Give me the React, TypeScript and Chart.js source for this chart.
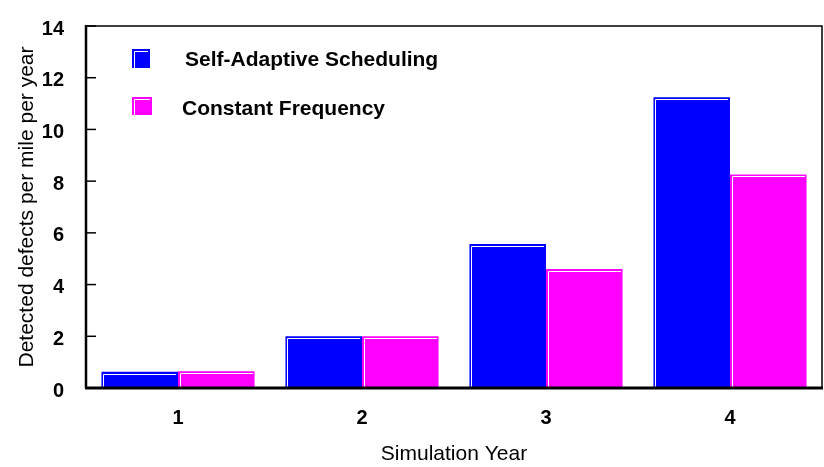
import React, { useEffect, useRef } from 'react';
import { Chart, registerables } from 'chart.js';

Chart.register(...registerables);

const categories = ['1', '2', '3', '4'];
const selfAdaptive = [0.63, 2.0, 5.57, 11.24];
const constantFrequency = [0.65, 2.0, 4.6, 8.26];
const seriesLabels = ['Self-Adaptive Scheduling', 'Constant Frequency'];
const seriesColors = ['#0000ff', '#ff00ff'];
const yTickValues = [0, 2, 4, 6, 8, 10, 12, 14];
const xTitle = 'Simulation Year';
const yTitle = 'Detected defects per mile per year';

const FONT = '"Liberation Sans", Arial, Helvetica, sans-serif';

const bevelPlugin = {
  id: 'bevel',
  afterDatasetsDraw(chart: any) {
    const ctx = chart.ctx;
    ctx.save();
    ctx.strokeStyle = '#ffffff';
    ctx.lineWidth = 1;
    chart.data.datasets.forEach((_ds: any, i: number) => {
      const meta = chart.getDatasetMeta(i);
      meta.data.forEach((bar: any) => {
        const { x, y, base, width } = bar.getProps(['x', 'y', 'base', 'width'], true);
        const l = Math.round(x - width / 2);
        const r = Math.round(x + width / 2);
        const t = Math.round(y);
        ctx.beginPath();
        ctx.moveTo(l + 2.5, base);
        ctx.lineTo(l + 2.5, t + 2.5);
        ctx.lineTo(r - 2, t + 2.5);
        ctx.stroke();
      });
    });
    // frame and axes
    const { left, right, top, bottom } = chart.chartArea;
    ctx.strokeStyle = '#000000';
    ctx.lineWidth = 1.5;
    ctx.beginPath();
    ctx.moveTo(left, top);
    ctx.lineTo(right, top);
    ctx.lineTo(right, bottom);
    ctx.stroke();
    ctx.lineWidth = 2.5;
    ctx.beginPath();
    ctx.moveTo(left, top - 1);
    ctx.lineTo(left, bottom);
    ctx.stroke();
    ctx.lineWidth = 3;
    ctx.beginPath();
    ctx.moveTo(left - 1, bottom);
    ctx.lineTo(right + 1, bottom);
    ctx.stroke();
    // inward y tick marks
    const ys = chart.scales.y;
    ctx.lineWidth = 1.5;
    yTickValues.forEach((v) => {
      const py = ys.getPixelForValue(v);
      ctx.beginPath();
      ctx.moveTo(left, py);
      ctx.lineTo(left + 10, py);
      ctx.stroke();
    });
    ctx.restore();
  },
};

const legendPlugin = {
  id: 'customLegend',
  afterDraw(chart: any) {
    const ctx = chart.ctx;
    const { left, top } = chart.chartArea;
    ctx.save();
    const items = [
      { sx: left + 46, sy: top + 23, sw: 18, sh: 19, tx: left + 99, ty: top + 40 },
      { sx: left + 46, sy: top + 71, sw: 20, sh: 18, tx: left + 96, ty: top + 89 },
    ];
    chart.data.datasets.forEach((ds: any, i: number) => {
      const it = items[i];
      ctx.fillStyle = ds.backgroundColor;
      ctx.fillRect(it.sx, it.sy, it.sw, it.sh);
      ctx.strokeStyle = '#ffffff';
      ctx.lineWidth = 1;
      ctx.beginPath();
      ctx.moveTo(it.sx + 2.5, it.sy + it.sh);
      ctx.lineTo(it.sx + 2.5, it.sy + 2.5);
      ctx.lineTo(it.sx + it.sw - 2, it.sy + 2.5);
      ctx.stroke();
      ctx.fillStyle = '#000000';
      ctx.font = `bold 21px ${FONT}`;
      ctx.textBaseline = 'alphabetic';
      ctx.textAlign = 'left';
      ctx.fillText(ds.label, it.tx, it.ty);
    });
    ctx.restore();
  },
};

export default function App() {
  const canvasRef = useRef<HTMLCanvasElement | null>(null);

  useEffect(() => {
    if (!canvasRef.current) return;
    const chart = new Chart(canvasRef.current, {
      type: 'bar',
      data: {
        labels: categories,
        datasets: [
          {
            label: seriesLabels[0],
            data: selfAdaptive,
            backgroundColor: seriesColors[0],
            borderWidth: 0,
            categoryPercentage: 0.832,
            barPercentage: 1,
          },
          {
            label: seriesLabels[1],
            data: constantFrequency,
            backgroundColor: seriesColors[1],
            borderWidth: 0,
            categoryPercentage: 0.832,
            barPercentage: 1,
          },
        ],
      },
      options: {
        responsive: false,
        animation: false,
        layout: { padding: { left: 0, top: 13, right: 2, bottom: 0 } },
        plugins: {
          legend: { display: false },
          tooltip: { enabled: false },
          title: { display: false },
        },
        scales: {
          x: {
            grid: { display: false },
            border: { display: false },
            ticks: {
              color: '#000000',
              font: { family: FONT, size: 20, weight: 'bold' },
              padding: 10,
            },
            title: {
              display: true,
              text: xTitle,
              color: '#000000',
              font: { family: FONT, size: 21, weight: 'normal' },
              padding: { top: 0, bottom: 0 },
            },
            afterFit: (scale: any) => {
              scale.height = 79;
            },
          },
          y: {
            min: 0,
            max: 14,
            grid: { display: false },
            border: { display: false },
            afterBuildTicks: (scale: any) => {
              scale.ticks = yTickValues.map((v) => ({ value: v }));
            },
            ticks: {
              color: '#000000',
              font: { family: FONT, size: 20, weight: 'bold' },
              padding: 14,
              labelOffset: 3,
            },
            title: {
              display: true,
              text: yTitle,
              color: '#000000',
              font: { family: FONT, size: 21, weight: 'normal' },
              padding: { top: 15, bottom: 0 },
            },
            afterFit: (scale: any) => {
              scale.width = 86;
            },
          },
        },
      } as any,
      plugins: [bevelPlugin, legendPlugin],
    });
    return () => chart.destroy();
  }, []);

  return (
    <div style={{ position: 'absolute', left: 0, top: 0, width: 824, height: 467, background: '#ffffff' }}>
      <canvas ref={canvasRef} width={824} height={467} style={{ width: 824, height: 467 }} />
    </div>
  );
}
